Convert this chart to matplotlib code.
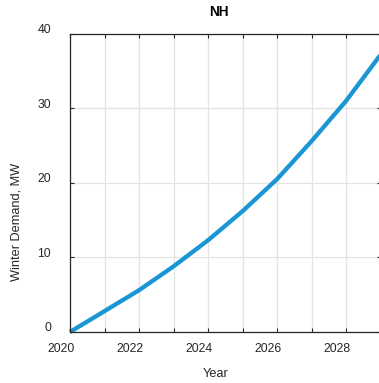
import numpy as np
import matplotlib
matplotlib.use("Agg")
import matplotlib.pyplot as plt
from matplotlib.transforms import ScaledTranslation

plt.rcParams['font.family'] = ['Liberation Sans', 'DejaVu Sans']

# winter demand forecast, NH
years = [2020, 2021, 2022, 2023, 2024, 2025, 2026, 2027, 2028, 2029]
demand_mw = [0.0, 2.8, 5.6, 8.8, 12.3, 16.2, 20.5, 25.6, 31.0, 37.2]

x_ticks = list(range(2020, 2030))
x_labels = ["2020", "", "2022", "", "2024", "", "2026", "", "2028", ""]
y_ticks = [0, 10, 20, 30, 40]

text_col = "#262626"

fig = plt.figure(figsize=(3.79, 3.83), dpi=100)
ax = fig.add_axes([0.1847, 0.1332, 0.820, 0.7793])

ax.plot(years, demand_mw, color="#1a96d4", lw=3.1, solid_capstyle="butt",
        solid_joinstyle="round", clip_on=False)

ax.set_xlim(2020, 2029)
ax.set_ylim(0, 40)
ax.set_xticks(x_ticks)
ax.set_xticklabels(x_labels)
ax.set_yticks(y_ticks)
ax.grid(True, color="#e3e3e3", lw=0.9)
ax.set_axisbelow(True)

ax.tick_params(direction="in", length=3, width=0.8, top=True, right=True,
               colors=text_col, labelsize=8.8, pad=8)
for sp in ax.spines.values():
    sp.set_color(text_col)
    sp.set_linewidth(0.9)

# nudge tick labels the way the original export places them
dx = ScaledTranslation(-9 / 100, 0, fig.dpi_scale_trans)
for lab in ax.get_xticklabels():
    lab.set_transform(lab.get_transform() + dx)
dy = ScaledTranslation(-8 / 100, 5 / 100, fig.dpi_scale_trans)
for lab in ax.get_yticklabels():
    lab.set_transform(lab.get_transform() + dy)

fig.text(219 / 379, 1 - 12 / 383, "NH", ha="center", va="center",
         fontsize=9.8, fontweight="bold", color="black")
fig.text(216 / 379, 1 - 374 / 383, "Year", ha="center", va="center",
         fontsize=9.2, color=text_col)
fig.text(17 / 379, 1 - 222 / 383, "Winter Demand, MW", ha="center", va="center",
         rotation=90, fontsize=9.2, color=text_col)

fig.savefig("out.png", dpi=100)
